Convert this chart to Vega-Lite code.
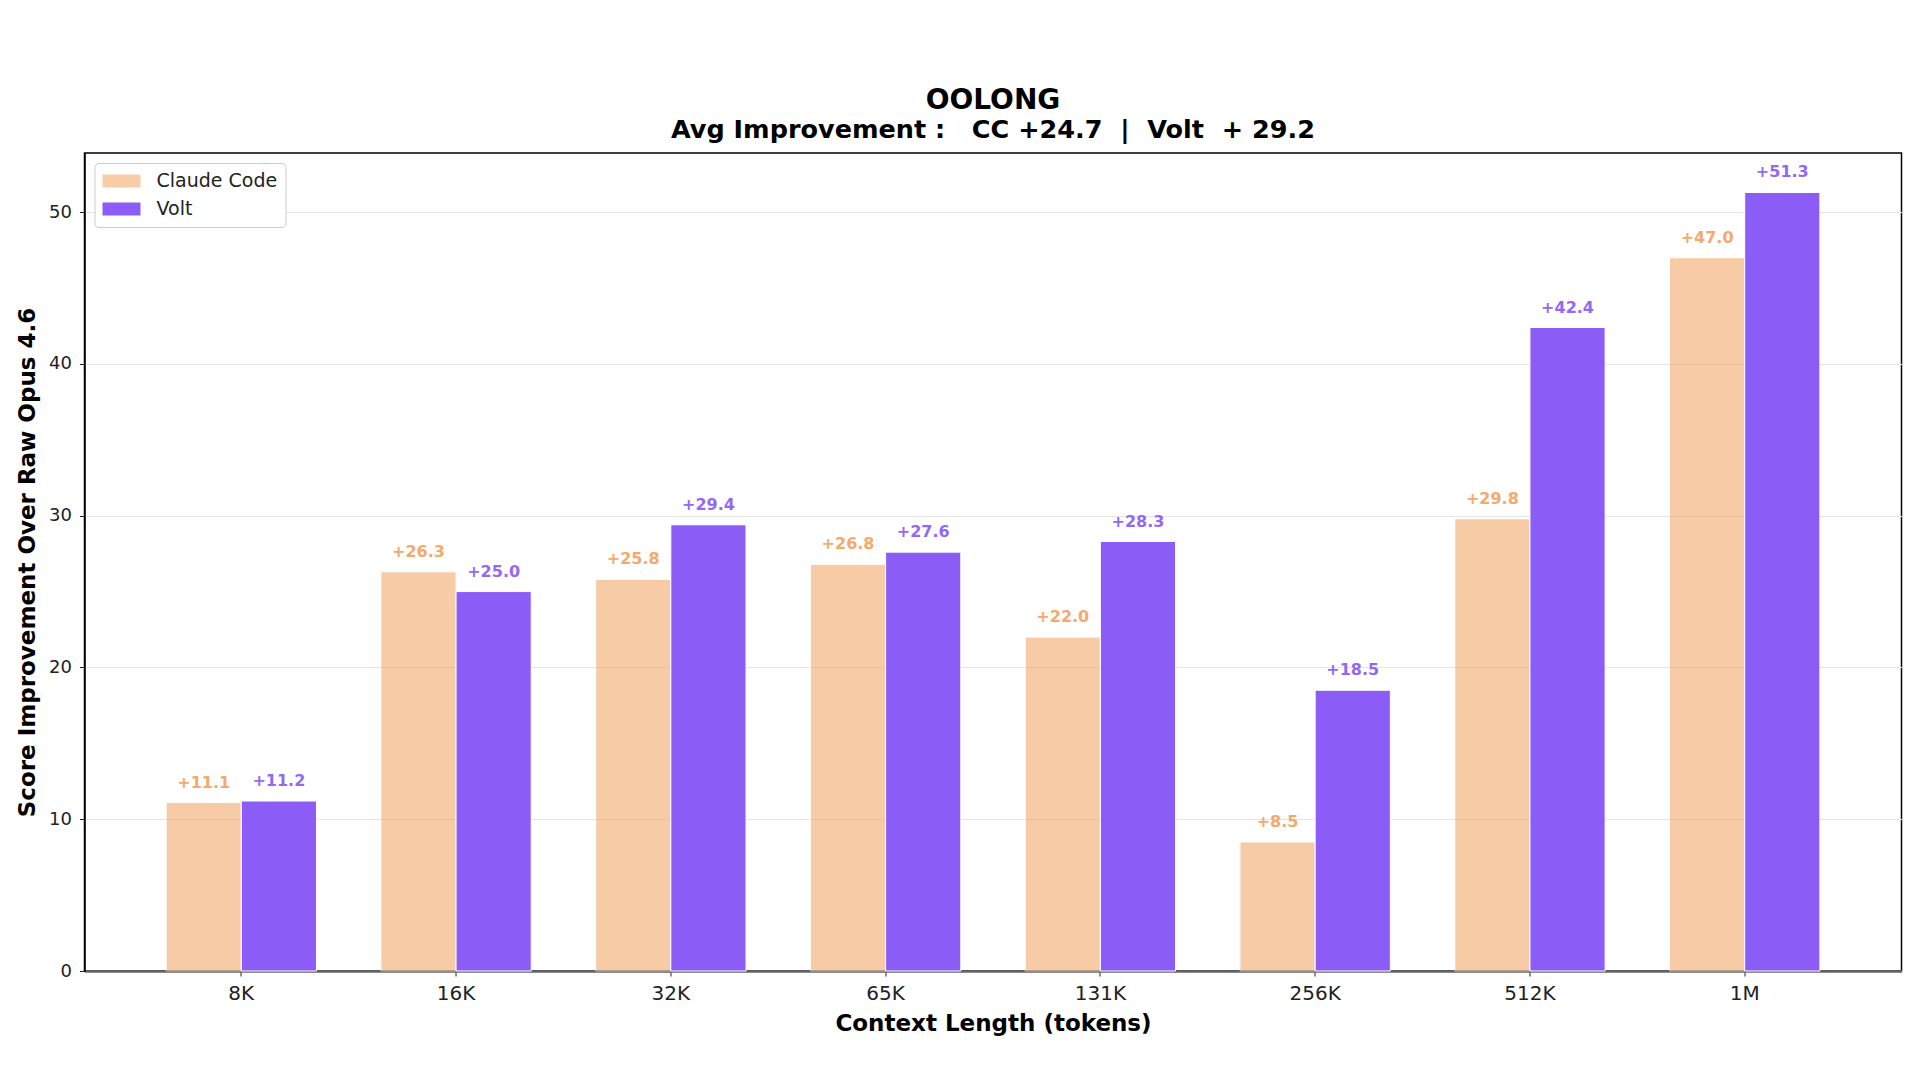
{
  "$schema": "https://vega.github.io/schema/vega-lite/v6.json",
  "autosize": {"type": "none"},
  "padding": {"left": 84.5, "top": 153, "right": 18, "bottom": 109},
  "width": 1817,
  "height": 818,
  "background": "white",
  "config": {
    "font": "DejaVu Sans",
    "view": {"stroke": "#000000", "strokeWidth": 1.5}
  },
  "title": {
    "text": "OOLONG",
    "subtitle": "Avg Improvement :\u00a0\u00a0\u00a0CC +24.7\u00a0\u00a0|\u00a0\u00a0Volt\u00a0\u00a0+\u00a029.2",
    "anchor": "middle",
    "font": "DejaVu Sans",
    "fontSize": 28,
    "fontWeight": "bold",
    "color": "#000000",
    "subtitleFont": "DejaVu Sans",
    "subtitleFontSize": 25.5,
    "subtitleFontWeight": "bold",
    "subtitleColor": "#000000",
    "subtitlePadding": 3,
    "offset": 10
  },
  "data": {
    "values": [
      {"ctx": "8K", "series": "Claude Code", "value": 11.1},
      {"ctx": "8K", "series": "Volt", "value": 11.2},
      {"ctx": "16K", "series": "Claude Code", "value": 26.3},
      {"ctx": "16K", "series": "Volt", "value": 25.0},
      {"ctx": "32K", "series": "Claude Code", "value": 25.8},
      {"ctx": "32K", "series": "Volt", "value": 29.4},
      {"ctx": "65K", "series": "Claude Code", "value": 26.8},
      {"ctx": "65K", "series": "Volt", "value": 27.6},
      {"ctx": "131K", "series": "Claude Code", "value": 22.0},
      {"ctx": "131K", "series": "Volt", "value": 28.3},
      {"ctx": "256K", "series": "Claude Code", "value": 8.5},
      {"ctx": "256K", "series": "Volt", "value": 18.5},
      {"ctx": "512K", "series": "Claude Code", "value": 29.8},
      {"ctx": "512K", "series": "Volt", "value": 42.4},
      {"ctx": "1M", "series": "Claude Code", "value": 47.0},
      {"ctx": "1M", "series": "Volt", "value": 51.3}
    ]
  },
  "encoding": {
    "x": {
      "field": "ctx",
      "type": "nominal",
      "sort": ["8K", "16K", "32K", "65K", "131K", "256K", "512K", "1M"],
      "scale": {"paddingInner": 0.3, "paddingOuter": 0.38},
      "axis": {
        "title": "Context Length (tokens)",
        "titleFont": "DejaVu Sans",
        "titleFontSize": 23,
        "titleFontWeight": "bold",
        "titleColor": "#000000",
        "titlePadding": 9,
        "labelAngle": 0,
        "labelFont": "DejaVu Sans",
        "labelFontSize": 20,
        "labelColor": "#222222",
        "labelPadding": 7,
        "tickSize": 5,
        "tickColor": "#222222",
        "domainColor": "#666666",
        "domainWidth": 2.5,
        "grid": false
      }
    },
    "xOffset": {"field": "series", "type": "nominal", "sort": ["Claude Code", "Volt"]},
    "y": {
      "field": "value",
      "type": "quantitative",
      "scale": {"domain": [0, 53.9], "nice": false, "zero": true},
      "axis": {
        "title": "Score Improvement Over Raw Opus 4.6",
        "titleFont": "DejaVu Sans",
        "titleFontSize": 23,
        "titleFontWeight": "bold",
        "titleColor": "#000000",
        "titlePadding": 9,
        "values": [0, 10, 20, 30, 40, 50],
        "labelFont": "DejaVu Sans",
        "labelFontSize": 18,
        "labelColor": "#222222",
        "labelPadding": 8,
        "tickSize": 5,
        "tickColor": "#222222",
        "domainColor": "#000000",
        "domainWidth": 1.5,
        "grid": true,
        "gridColor": "#e4e4e4",
        "gridWidth": 1.2
      }
    },
    "color": {
      "field": "series",
      "type": "nominal",
      "sort": ["Claude Code", "Volt"],
      "scale": {"domain": ["Claude Code", "Volt"], "range": ["#F4A261", "#8B5CF6"]},
      "legend": {
        "title": null,
        "orient": "top-left",
        "offset": 10,
        "fillColor": "white",
        "strokeColor": "#cccccc",
        "cornerRadius": 4,
        "padding": 8,
        "labelFont": "DejaVu Sans",
        "labelFontSize": 19,
        "labelColor": "#222222",
        "labelOffset": 34,
        "symbolType": "M-1,-0.65H2.8V0.65H-1Z",
        "symbolSize": 400,
        "symbolStrokeWidth": 0,
        "rowPadding": 8
      }
    }
  },
  "layer": [
    {
      "mark": {"type": "bar", "stroke": "white", "strokeWidth": 1},
      "encoding": {
        "opacity": {
          "field": "series",
          "type": "nominal",
          "sort": ["Claude Code", "Volt"],
          "scale": {"domain": ["Claude Code", "Volt"], "range": [0.55, 1]},
          "legend": {"title": null}
        }
      }
    },
    {
      "mark": {
        "type": "text",
        "font": "DejaVu Sans",
        "fontSize": 16,
        "fontWeight": "bold",
        "baseline": "alphabetic",
        "dy": -15,
        "opacity": 0.92
      },
      "encoding": {
        "text": {"field": "value", "type": "quantitative", "format": "+.1f"}
      }
    }
  ]
}
